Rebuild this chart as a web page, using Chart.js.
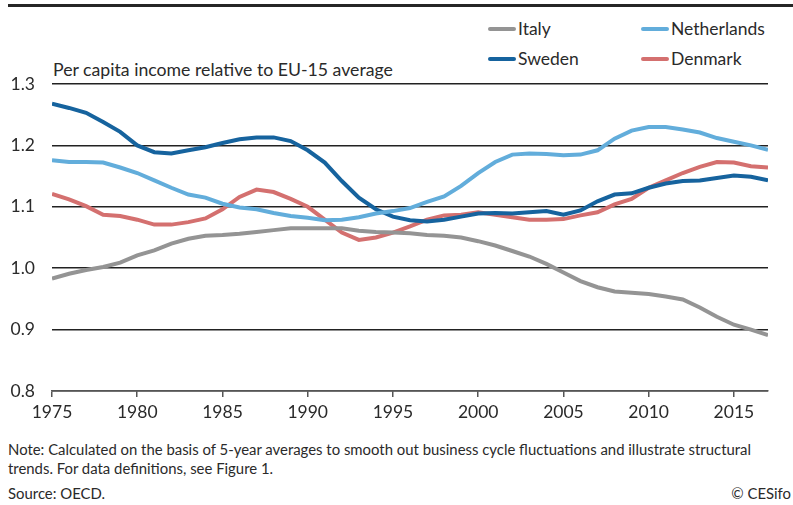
<!DOCTYPE html>
<html>
<head>
<meta charset="utf-8">
<script src="https://cdn.jsdelivr.net/npm/chart.js@4.4.1/dist/chart.umd.min.js"></script>
<style>
  body { margin: 0; background: #fff; font-family: Lato, "Noto Sans", sans-serif; color: #2a2a2a; }
  #wrap { position: relative; width: 793px; height: 505px; overflow: hidden; }
  #topRule { position: absolute; left: 8px; right: 0; top: 4px; height: 3px; background: #262626; }
  #chartBox { position: absolute; left: 0; top: 0; width: 793px; height: 430px; }
  .lg { position: absolute; font-size: 17.5px; line-height: 20px; display: flex; align-items: center; }
  .lg i { display: inline-block; width: 28px; height: 4px; border-radius: 2px; margin-right: 2px; }
  #subtitle { position: absolute; left: 53px; top: 59px; font-size: 17.7px; }
  .note { position: absolute; left: 8px; font-size: 14.9px; white-space: nowrap; }
</style>
</head>
<body>
<div id="wrap">
  <div id="topRule"></div>
  <div id="legend"></div>
  <div id="subtitle">Per capita income relative to EU-15 average</div>
  <div id="chartBox"><canvas id="chart"></canvas></div>
  <div class="note" style="top:440px">Note: Calculated on the basis of 5-year averages to smooth out business cycle fluctuations and illustrate structural</div>
  <div class="note" style="top:459px">trends. For data definitions, see Figure 1.</div>
  <div class="note" style="top:484px">Source: OECD.</div>
  <div class="note" style="top:484px; left:auto; right:2px">© CESifo</div>
</div>
<script>
const years = [];
for (let y = 1975; y <= 2017; y++) years.push(y);

const italy = [0.983, 0.991, 0.997, 1.002, 1.009, 1.021, 1.029, 1.040, 1.048, 1.053,
  1.054, 1.056, 1.059, 1.062, 1.065, 1.065, 1.065, 1.065, 1.061, 1.059,
  1.058, 1.057, 1.054, 1.053, 1.050, 1.044, 1.037, 1.028, 1.019, 1.007,
  0.993, 0.979, 0.969, 0.962, 0.960, 0.958, 0.954, 0.949, 0.936, 0.921,
  0.908, 0.900, 0.891];
const netherlands = [1.176, 1.173, 1.173, 1.172, 1.164, 1.155, 1.143, 1.131, 1.120, 1.115,
  1.105, 1.099, 1.096, 1.090, 1.085, 1.082, 1.078, 1.079, 1.083, 1.089,
  1.093, 1.098, 1.108, 1.117, 1.134, 1.155, 1.173, 1.185, 1.187, 1.186,
  1.184, 1.185, 1.192, 1.211, 1.224, 1.230, 1.230, 1.226, 1.221, 1.212,
  1.206, 1.200, 1.193];
const sweden = [1.268, 1.261, 1.253, 1.238, 1.222, 1.200, 1.189, 1.187, 1.192, 1.197,
  1.204, 1.210, 1.213, 1.213, 1.207, 1.192, 1.172, 1.142, 1.115, 1.096,
  1.084, 1.078, 1.076, 1.079, 1.084, 1.089, 1.090, 1.089, 1.091, 1.093,
  1.087, 1.094, 1.109, 1.120, 1.122, 1.131, 1.138, 1.142, 1.143, 1.147,
  1.151, 1.149, 1.143];
const denmark = [1.121, 1.112, 1.101, 1.087, 1.085, 1.079, 1.071, 1.071, 1.075, 1.081,
  1.096, 1.116, 1.128, 1.124, 1.113, 1.100, 1.079, 1.058, 1.046, 1.050,
  1.058, 1.068, 1.079, 1.086, 1.087, 1.091, 1.087, 1.083, 1.079, 1.079,
  1.080, 1.086, 1.091, 1.104, 1.113, 1.131, 1.143, 1.155, 1.165, 1.173,
  1.172, 1.166, 1.164];

const xTicks = [1975, 1980, 1985, 1990, 1995, 2000, 2005, 2010, 2015];
const yTicks = [0.8, 0.9, 1.0, 1.1, 1.2, 1.3];

const series = [
  { name: 'Italy', data: italy, color: '#949494', lx: 488, ly: 19 },
  { name: 'Netherlands', data: netherlands, color: '#62addb', lx: 641, ly: 19 },
  { name: 'Sweden', data: sweden, color: '#16639e', lx: 488, ly: 49 },
  { name: 'Denmark', data: denmark, color: '#d4706f', lx: 641, ly: 49 }
];

// legend (html)
const legendEl = document.getElementById('legend');
series.forEach(s => {
  const d = document.createElement('div');
  d.className = 'lg';
  d.style.left = s.lx + 'px';
  d.style.top = s.ly + 'px';
  d.innerHTML = '<i style="background:' + s.color + '"></i>' + s.name;
  legendEl.appendChild(d);
});

const datasets = series.map(s => ({
  label: s.name,
  data: s.data.map((v, i) => ({ x: years[i], y: v })),
  borderColor: s.color,
  borderWidth: 4,
  pointRadius: 0,
  tension: 0,
  fill: false
}));

new Chart(document.getElementById('chart'), {
  type: 'line',
  data: { datasets: datasets },
  options: {
    responsive: true,
    maintainAspectRatio: false,
    animation: false,
    layout: { padding: { left: 8, right: 25, top: 84, bottom: 0 } },
    plugins: { legend: { display: false }, tooltip: { enabled: false } },
    scales: {
      x: {
        type: 'linear',
        min: 1975,
        max: 2017,
        afterBuildTicks: s => { s.ticks = xTicks.map(v => ({ value: v })); },
        afterFit: s => { s.height = 39; },
        ticks: {
          autoSkip: false,
          color: '#2a2a2a',
          font: { family: 'Lato', size: 17.5 },
          padding: 5,
          maxRotation: 0,
          callback: v => String(v)
        },
        grid: { drawOnChartArea: false, drawTicks: true, tickLength: 6, color: '#555', lineWidth: 1.5 },
        border: { display: true, color: '#555', width: 1.5 }
      },
      y: {
        min: 0.8,
        max: 1.3,
        afterBuildTicks: s => { s.ticks = yTicks.map(v => ({ value: v })); },
        afterFit: s => { s.width = 44; },
        ticks: {
          color: '#2a2a2a',
          font: { family: 'Lato', size: 17.5 },
          padding: 17,
          callback: v => v.toFixed(1)
        },
        grid: { drawTicks: false, color: '#222', lineWidth: 1.5 },
        border: { display: false }
      }
    }
  }
});
</script>
</body>
</html>
